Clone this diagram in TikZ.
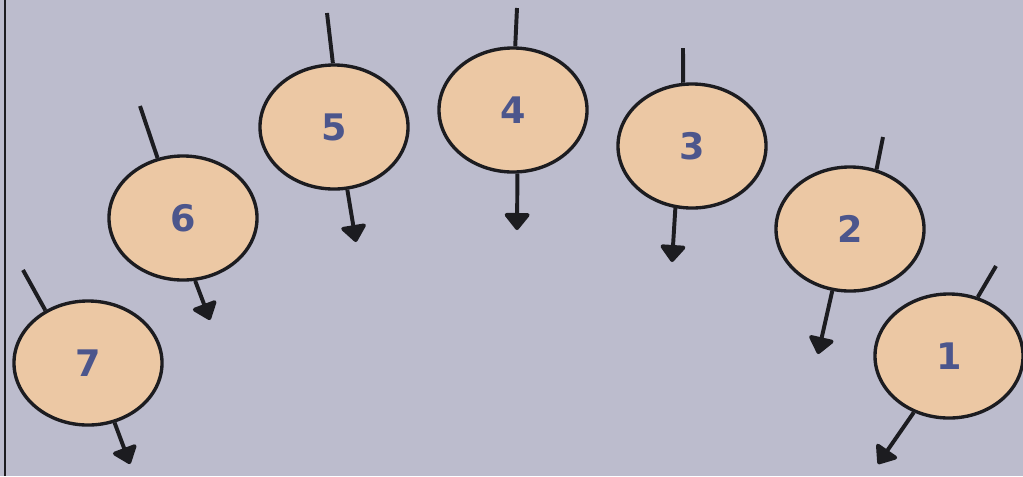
\documentclass[tikz,border=0pt]{standalone}
\usepackage{fontspec}
\setsansfont{DejaVu Sans}
\usetikzlibrary{shapes.geometric,arrows.meta}
\definecolor{bgcol}{RGB}{188,188,205}
\definecolor{ballfill}{RGB}{236,200,164}
\definecolor{digitcol}{RGB}{76,86,140}
\definecolor{inkcol}{RGB}{28,28,32}
\tikzset{
  ball/.style={ellipse,draw=inkcol,line width=2.4pt,fill=ballfill,minimum width=3.7cm,minimum height=3.1cm,
    font=\sffamily\bfseries\fontsize{26}{26}\selectfont,text=digitcol},
  tail/.style={draw=inkcol,line width=2.8pt},
  spinarrow/.style={draw=inkcol,line width=2.8pt,-{Triangle[width=20pt,length=13pt,round]}}
}
\begin{document}
\begin{tikzpicture}[x=0.025cm,y=-0.025cm]
\useasboundingbox (0,0) rectangle (1023,476);
\fill[bgcol] (0,0) rectangle (1023,476);
\draw[inkcol,line width=2pt] (5,0) -- (5,476);
% balls: name/center x/center y/tail angle/tail end/arrow angle/arrow end
\foreach \n/\cx/\cy/\ta/\tx/\ty/\ha/\hx/\hy in {
  7/88/363/129/23/270/-66/130/464,
  6/183/218/113/140/106/-79/210/320,
  5/334/127/91/327/13/-78/356/242,
  4/513/110/88/517/8/-86/517/230,
  3/692/146/98/683/48/-105/672/262,
  2/850/229/66/883/137/-106/818/354,
  1/949/356/64/996/266/-122/878/464} {
  \node[ball] (c\n) at (\cx,\cy) {\n};
  \coordinate (t\n) at (\tx,\ty);
  \coordinate (h\n) at (\hx,\hy);
  \draw[tail] (t\n) -- (c\n.\ta);
  \draw[spinarrow] (c\n.\ha) -- (h\n);
}
\end{tikzpicture}
\end{document}
